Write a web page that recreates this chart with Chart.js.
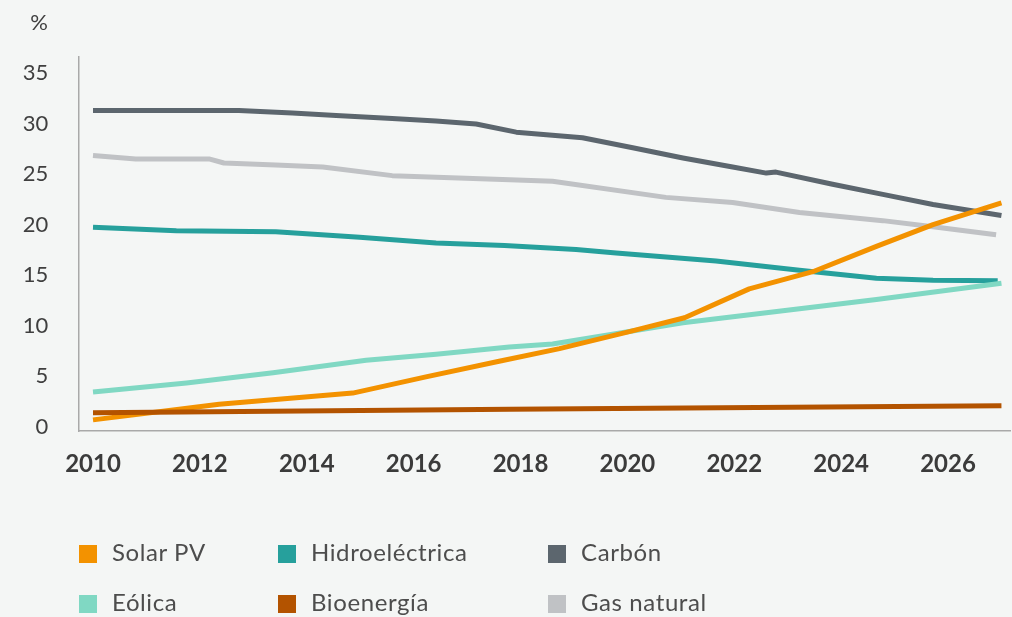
<!DOCTYPE html>
<html>
<head>
<meta charset="utf-8">
<script src="https://cdn.jsdelivr.net/npm/chart.js@4.4.1/dist/chart.umd.min.js"></script>
<style>
  html, body { margin: 0; padding: 0; background: #f4f6f5; }
  #wrap { position: relative; width: 1012px; height: 617px; overflow: hidden; }
  #c { position: absolute; left: 0; top: 0; }
  #legend { position: absolute; left: 0; top: 0; width: 1012px; height: 617px; pointer-events: none;
            font-family: Lato, "Open Sans", sans-serif; font-size: 24px; letter-spacing: 0.6px; color: #4d4d4d; }
  .item { position: absolute; display: flex; align-items: center; height: 19px; white-space: nowrap; }
  .sw { width: 18px; height: 18px; margin-right: 15px; flex: none; }
  .tx { position: relative; top: -2px; }
</style>
</head>
<body>
<div id="wrap">
  <canvas id="c" width="1012" height="617"></canvas>
  <div id="legend"></div>
</div>
<script>
// ---- data ----
const xTicks = [2010, 2012, 2014, 2016, 2018, 2020, 2022, 2024, 2026];
const yTicks = [0, 5, 10, 15, 20, 25, 30, 35];
const yUnit = "%";

const seriesNames = ["Solar PV", "Hidroeléctrica", "Carbón", "Eólica", "Bioenergía", "Gas natural"];

const solarYears  = [2010, 2012.36, 2014.86, 2016.23, 2017.6, 2018.73, 2019.98, 2021.07, 2022.28, 2023.47, 2024.66, 2025.72, 2027];
const solarValues = [0.7, 2.25, 3.35, 4.95, 6.5, 7.75, 9.35, 10.8, 13.65, 15.35, 17.85, 20.0, 22.15];

const hidroYears  = [2010, 2011.56, 2013.42, 2014.99, 2016.42, 2017.7, 2019.04, 2019.79, 2021.66, 2023.22, 2024.66, 2025.72, 2026.93];
const hidroValues = [19.75, 19.4, 19.3, 18.75, 18.2, 17.95, 17.55, 17.2, 16.4, 15.5, 14.7, 14.5, 14.45];

const carbonYears  = [2010, 2012.73, 2013.73, 2014.55, 2015.6, 2016.42, 2017.17, 2017.92, 2019.16, 2020.1, 2021.04, 2021.97, 2022.6, 2022.78, 2023.84, 2024.78, 2025.72, 2027];
const carbonValues = [31.3, 31.3, 31.05, 30.8, 30.5, 30.25, 29.95, 29.15, 28.6, 27.6, 26.6, 25.7, 25.1, 25.2, 24.0, 23.0, 22.0, 20.9];

const eolicaYears  = [2010, 2011.75, 2013.37, 2015.11, 2016.42, 2017.79, 2018.6, 2021.04, 2022.6, 2024.66, 2027];
const eolicaValues = [3.45, 4.35, 5.35, 6.6, 7.2, 7.9, 8.2, 10.3, 11.3, 12.6, 14.2];

const bioYears  = [2010, 2017.8, 2027];
const bioValues = [1.4, 1.75, 2.1];

const gasYears  = [2010, 2010.8, 2012.17, 2012.45, 2013.42, 2014.3, 2015.6, 2017.8, 2018.6, 2020.72, 2021.97, 2023.22, 2024.78, 2025.72, 2026.9];
const gasValues = [26.85, 26.5, 26.5, 26.1, 25.9, 25.7, 24.85, 24.45, 24.3, 22.7, 22.2, 21.2, 20.4, 19.8, 19.0];

const colors = ["#f39200", "#26a09c", "#5c666e", "#80d8c3", "#b35300", "#c0c2c5"];
const drawOrder = [1, 3, 4, 2, 0, 5];

const allYears = [solarYears, hidroYears, carbonYears, eolicaYears, bioYears, gasYears];
const allValues = [solarValues, hidroValues, carbonValues, eolicaValues, bioValues, gasValues];

const datasets = seriesNames.map((name, i) => ({
  label: name,
  data: allYears[i].map((x, j) => ({ x: x, y: allValues[i][j] })),
  borderColor: colors[i],
  backgroundColor: colors[i],
  borderWidth: 5,
  pointRadius: 0,
  tension: 0,
  borderCapStyle: 'butt',
  borderJoinStyle: 'round',
  fill: false,
  order: drawOrder[i]
}));

const unitPlugin = {
  id: 'unitLabel',
  afterDraw(chart) {
    const ctx = chart.ctx;
    ctx.save();
    ctx.font = '22px Lato, "Open Sans", sans-serif';
    ctx.fillStyle = '#3f3f3f';
    ctx.textAlign = 'right';
    ctx.textBaseline = 'middle';
    ctx.fillText(yUnit, 48, 23);
    ctx.restore();
  }
};

new Chart(document.getElementById('c'), {
  type: 'line',
  data: { datasets: datasets },
  plugins: [unitPlugin],
  options: {
    responsive: false,
    animation: false,
    events: [],
    layout: { padding: { left: 0, top: 57, right: 2, bottom: 136 } },
    plugins: { legend: { display: false }, tooltip: { enabled: false } },
    scales: {
      x: {
        type: 'linear',
        min: 2009.725,
        max: 2027.16,
        afterBuildTicks: (s) => { s.ticks = xTicks.map(v => ({ value: v })); },
        afterFit: (s) => { s.height = 50; },
        grid: { display: false, drawTicks: false },
        border: { display: true, color: '#a9a9a9', width: 1.5 },
        ticks: {
          autoSkip: false,
          maxRotation: 0,
          padding: 19,
          color: '#3b3b3b',
          font: { family: 'Lato, "Open Sans", sans-serif', size: 24, weight: 'bold' },
          callback: (v) => String(v)
        }
      },
      y: {
        type: 'linear',
        min: -0.4,
        max: 36.58,
        afterBuildTicks: (s) => { s.ticks = yTicks.map(v => ({ value: v })); },
        afterFit: (s) => { s.width = 78.3; },
        grid: { display: false, drawTicks: false },
        border: { display: true, color: '#a9a9a9', width: 1.5 },
        ticks: {
          padding: 30,
          color: '#3f3f3f',
          font: { family: 'Lato, "Open Sans", sans-serif', size: 22 },
          callback: (v) => String(v)
        }
      }
    }
  }
});

// HTML legend built from the datasets
const legendPos = [[79, 544], [278, 544], [548, 544], [79, 594], [278, 594], [548, 594]];
const legend = document.getElementById('legend');
seriesNames.forEach((name, i) => {
  const it = document.createElement('div');
  it.className = 'item';
  it.style.left = legendPos[i][0] + 'px';
  it.style.top = legendPos[i][1] + 'px';
  const sw = document.createElement('span');
  sw.className = 'sw';
  sw.style.background = colors[i];
  const tx = document.createElement('span');
  tx.className = 'tx';
  tx.textContent = name;
  it.appendChild(sw);
  it.appendChild(tx);
  legend.appendChild(it);
});
</script>
</body>
</html>
